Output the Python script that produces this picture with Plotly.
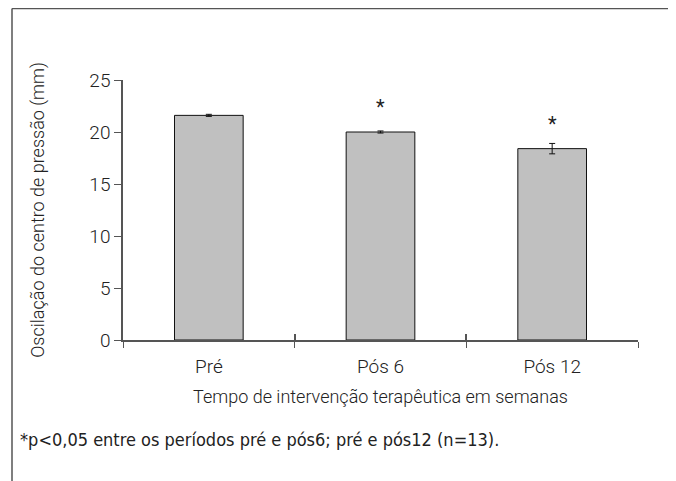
import plotly.graph_objects as go

categories = ["Pré", "Pós 6", "Pós 12"]
values = [21.6, 20.0, 18.4]
errors = [0.1, 0.1, 0.5]
significant = ["", "*", "*"]
y_ticks = [0, 5, 10, 15, 20, 25]

FONT = "Roboto"
# page body has an 8px margin; figure geometry is expressed in figure pixels
L, T, PW, PH = 115, 72, 515, 260
W, H = 668, 473


def px(xp):
    return (xp - L) / PW


def py(yp):
    return (T + PH - yp) / PH


fig = go.Figure()
fig.add_trace(go.Bar(
    x=categories, y=values,
    marker=dict(color="#c0c0c0", line=dict(color="#111111", width=1)),
    error_y=dict(type="data", array=errors, visible=True, color="#111111", thickness=1, width=3),
    width=0.4,
))

for c, v, s in zip(categories, values, significant):
    if s:
        fig.add_annotation(x=c, y=v, text=s, showarrow=False, yanchor="bottom", yshift=11,
                           font=dict(family=FONT, size=20, color="#222"))

fig.add_annotation(xref="paper", yref="paper", x=px(10), y=py(431),
                   xanchor="left", yanchor="middle", showarrow=False,
                   text="*p<0,05 entre os períodos pré e pós6; pré e pós12 (n=13).",
                   font=dict(family="Liberation Sans Narrow, DejaVu Sans Condensed, Roboto",
                             size=18, color="#222"))

# outer frame
fc = dict(color="#555", width=1.5)
fig.add_shape(type="line", xref="paper", yref="paper", x0=px(4), x1=px(4), y0=py(0.5), y1=py(H + 5), line=fc)
fig.add_shape(type="line", xref="paper", yref="paper", x0=px(662), x1=px(662), y0=py(0.5), y1=py(H + 5), line=fc)
fig.add_shape(type="line", xref="paper", yref="paper", x0=px(4), x1=px(662), y0=py(0.5), y1=py(0.5), line=fc)

boundaries = [i - 0.5 for i in range(len(categories) + 1)]

fig.update_layout(
    width=W, height=H,
    margin=dict(l=L, r=W - L - PW, t=T, b=H - T - PH),
    paper_bgcolor="white", plot_bgcolor="white",
    showlegend=False,
    font=dict(family=FONT, color="#222"),
    xaxis=dict(showline=True, linecolor="#555", linewidth=1.5, ticks="outside", ticklen=6,
               tickcolor="#555", tickson="boundaries", range=[-0.5, 2.5],
               tickfont=dict(size=19, family=FONT, weight=300), showgrid=False,
               ticklabelstandoff=8,
               title=dict(text="Tempo de intervenção terapêutica em semanas", standoff=14,
                          font=dict(size=18, family=FONT, weight=300))),
    xaxis2=dict(overlaying="x", anchor="y", side="bottom", type="linear", range=[-0.5, 2.5],
                tickvals=boundaries, ticks="inside", ticklen=6, tickcolor="#555", tickwidth=1.5,
                showticklabels=False, showgrid=False, zeroline=False, showline=False),
    yaxis=dict(showline=True, linecolor="#555", linewidth=1.5, ticks="outside", ticklen=7,
               tickcolor="#555", range=[0, 25], tickvals=y_ticks, showgrid=False, zeroline=False,
               tickfont=dict(size=19, family=FONT, weight=300),
               title=dict(text="Oscilação do centro de pressão (mm)", standoff=40,
                          font=dict(size=18, family=FONT, weight=300))),
)
fig.add_trace(go.Scatter(x=[0], y=[0], xaxis="x2", yaxis="y", mode="markers",
                         marker=dict(opacity=0, size=1), showlegend=False, hoverinfo="skip"))

fig.write_html("out.html")
